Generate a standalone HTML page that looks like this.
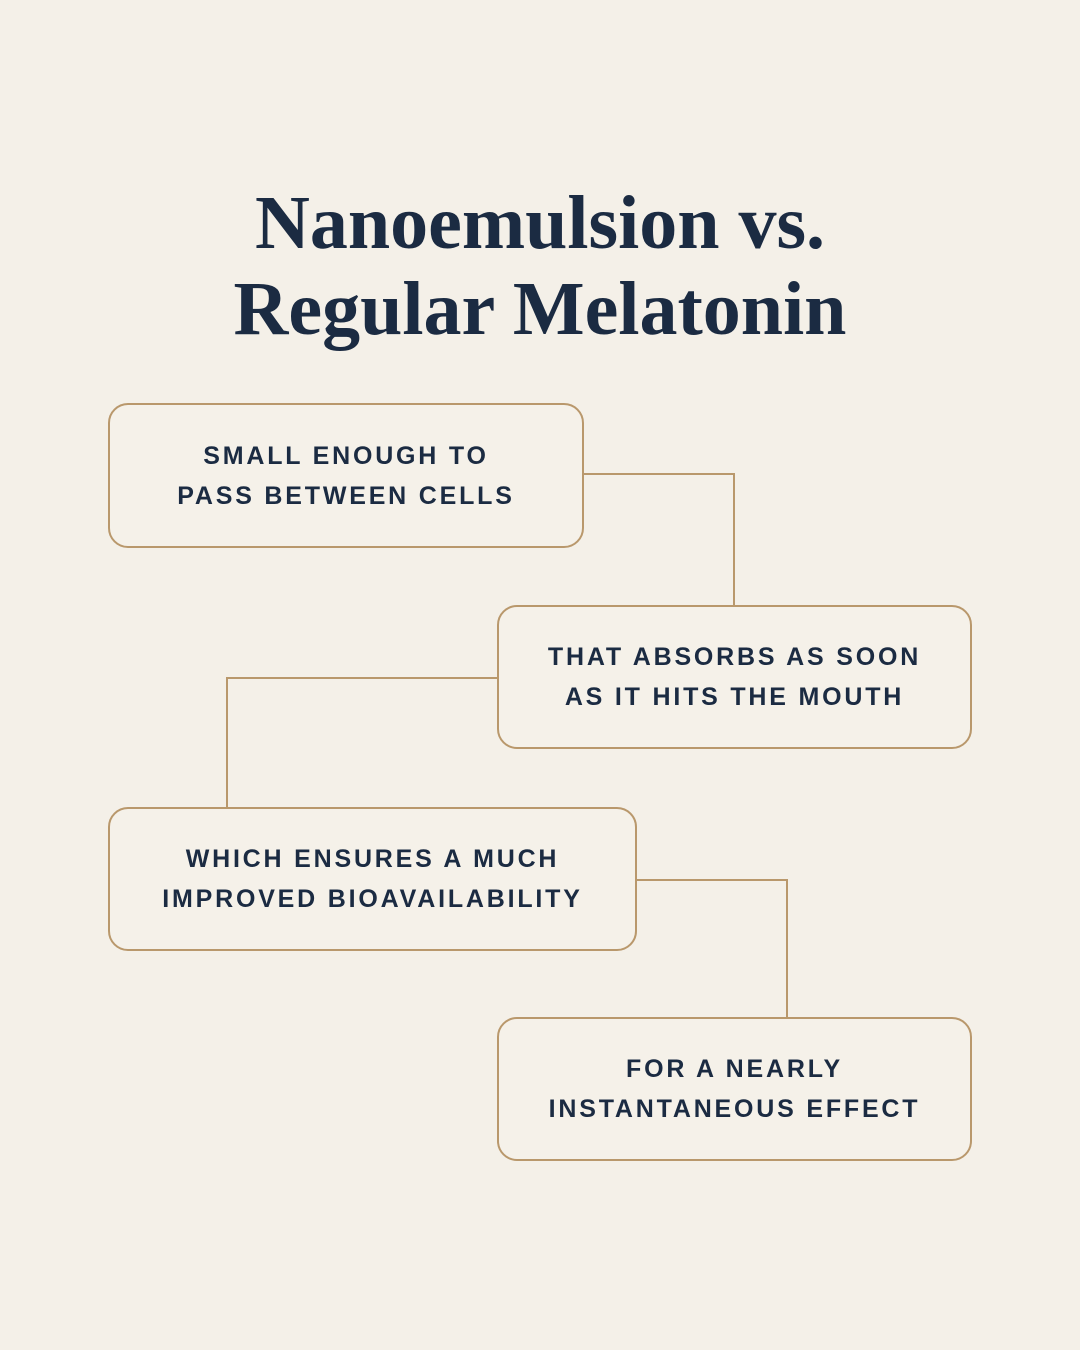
<!DOCTYPE html>
<html><head><style>
body{margin:0;width:1080px;height:1350px;background:#f4f0e8;position:relative;overflow:hidden;font-family:"Liberation Sans",sans-serif}
h1{position:absolute;top:180px;left:0;width:1080px;margin:0;text-align:center;font-family:"Liberation Serif",serif;font-weight:bold;font-size:76px;line-height:86px;color:#1b2b42}
.b{position:absolute;box-sizing:border-box;border:2px solid #b9986c;border-radius:20px;background:#f5f1e9;display:flex;align-items:center;justify-content:center;text-align:center;color:#1b2b42;font-weight:bold;font-size:25px;letter-spacing:2.8px;line-height:40px}
.l{position:absolute;background:#b9986c}
</style></head><body>
<h1>Nanoemulsion vs.<br>Regular Melatonin</h1>
<div class="l" style="left:583px;top:473px;width:152px;height:2px"></div>
<div class="l" style="left:733px;top:473px;width:2px;height:133px"></div>
<div class="l" style="left:226px;top:677px;width:272px;height:2px"></div>
<div class="l" style="left:226px;top:677px;width:2px;height:131px"></div>
<div class="l" style="left:636px;top:879px;width:152px;height:2px"></div>
<div class="l" style="left:786px;top:879px;width:2px;height:139px"></div>
<div class="b" style="left:108px;top:403px;width:476px;height:145px">SMALL ENOUGH TO<br>PASS BETWEEN CELLS</div>
<div class="b" style="left:497px;top:605px;width:475px;height:144px">THAT ABSORBS AS SOON<br>AS IT HITS THE MOUTH</div>
<div class="b" style="left:108px;top:807px;width:529px;height:144px">WHICH ENSURES A MUCH<br>IMPROVED BIOAVAILABILITY</div>
<div class="b" style="left:497px;top:1017px;width:475px;height:144px">FOR A NEARLY<br>INSTANTANEOUS EFFECT</div>
</body></html>
